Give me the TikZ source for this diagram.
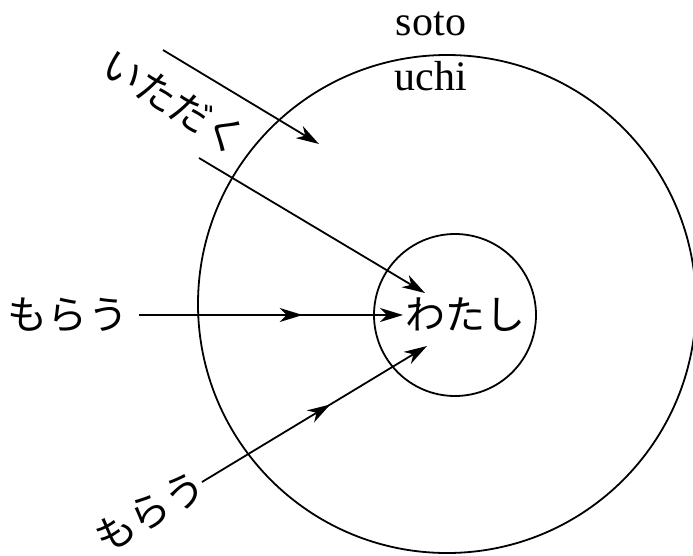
\documentclass[tikz,border=0pt]{standalone}
\usepackage{fontspec}
\setmainfont{Liberation Serif}
\newfontfamily\jp{Noto Sans CJK JP}
\usetikzlibrary{arrows.meta,decorations.markings}
\begin{document}
\begin{tikzpicture}[x=1pt,y=-1pt,line width=1.8pt,
  tipend/.style={-{Stealth[length=23pt,width=14pt,inset=7pt]}},
  midtip/.style={postaction={decorate},decoration={markings,
     mark=at position #1 with {\arrow{Stealth[length=23pt,width=14pt,inset=7pt]}}}},
  jtext/.style={font=\jp\fontsize{40}{44}\selectfont,inner sep=0pt},
  ltext/.style={font=\fontsize{42}{46}\selectfont,inner sep=0pt},
  ring/.style={circle,draw,inner sep=0pt}]
\useasboundingbox (0,0) rectangle (693,555);
\node[ring,minimum size=498pt] (outer) at (447,304) {};
\node[ring,minimum size=162pt] (inner) at (455,315) {};
\node[ltext,anchor=base] (soto) at (431,35) {soto};
\node[ltext,anchor=base] (uchi) at (431,90) {uchi};
\node[jtext,anchor=west] (watashi) at (405,315) {わたし};
\node[jtext] (morau1) at (68,315) {もらう};
\node[jtext,rotate=-32] (itadaku) at (174,102) {いただく};
\node[jtext,rotate=30] (morau2) at (150,512) {もらう};
\coordinate (a1s) at (163,50);
\coordinate (a1e) at (319,144);
\coordinate (a2s) at (199,158);
\coordinate (a2e) at (425,293);
\coordinate (a3s) at (139,315);
\coordinate (a3e) at (403,315);
\coordinate (a4s) at (202,482);
\coordinate (a4e) at (427,346);
\draw[tipend] (a1s) -- (a1e);
\draw[tipend] (a2s) -- (a2e);
\draw[tipend,midtip=0.62] (a3s) -- (a3e);
\draw[tipend,midtip=0.57] (a4s) -- (a4e);
\end{tikzpicture}
\end{document}
